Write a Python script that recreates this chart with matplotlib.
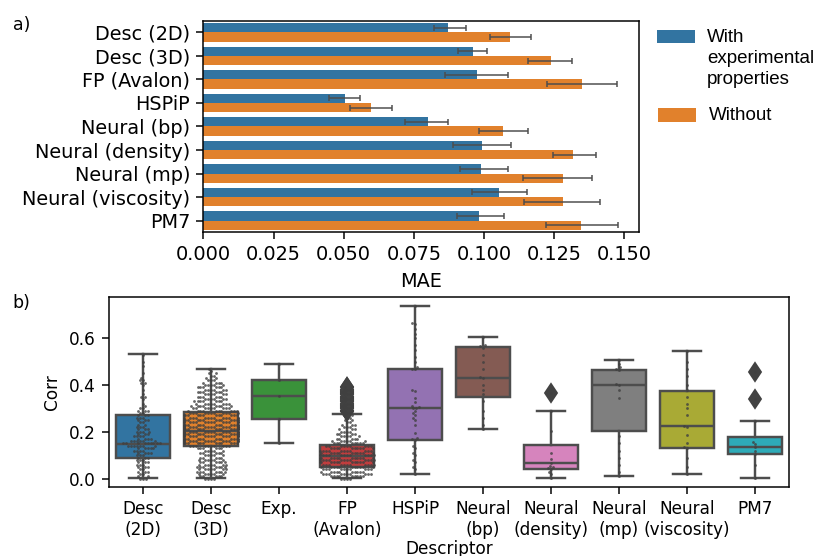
import numpy as np
import pandas as pd
import matplotlib
matplotlib.use('Agg')
import matplotlib.pyplot as plt
import seaborn as sns
from matplotlib.patches import Rectangle

plt.rcParams['font.size'] = 10.3

# ---- a) MAE bars ----
desc_labels = ['Desc (2D)', 'Desc (3D)', 'FP (Avalon)', 'HSPiP', 'Neural (bp)',
               'Neural (density)', 'Neural (mp)', 'Neural (viscosity)', 'PM7']
mae_with = [0.0873, 0.0961, 0.0974, 0.0505, 0.0800, 0.0992, 0.0990, 0.1055, 0.0983]
with_lo = [0.0822, 0.0906, 0.0862, 0.0449, 0.0720, 0.0890, 0.0916, 0.0956, 0.0902]
with_hi = [0.0935, 0.1012, 0.1087, 0.0559, 0.0871, 0.1096, 0.1085, 0.1154, 0.1071]
mae_without = [0.1093, 0.1238, 0.1349, 0.0596, 0.1068, 0.1316, 0.1280, 0.1283, 0.1346]
without_lo = [0.1021, 0.1157, 0.1226, 0.0523, 0.0982, 0.1246, 0.1138, 0.1143, 0.1222]
without_hi = [0.1166, 0.1315, 0.1474, 0.0671, 0.1158, 0.1398, 0.1386, 0.1413, 0.1478]

# ---- b) Corr box plots ----
box_names = ['Desc (2D)', 'Desc (3D)', 'Exp.', 'FP (Avalon)', 'HSPiP', 'Neural (bp)',
             'Neural (density)', 'Neural (mp)', 'Neural (viscosity)', 'PM7']
box_ticklabels = ['Desc\n(2D)', 'Desc\n(3D)', 'Exp.', 'FP\n(Avalon)', 'HSPiP', 'Neural\n(bp)',
                  'Neural\n(density)', 'Neural\n(mp)', 'Neural\n(viscosity)', 'PM7']
box_colors = ['#3274a1', '#e1812c', '#3a923a', '#c03d3e', '#9372b2',
              '#845b53', '#d684bd', '#7f7f7f', '#a9aa35', '#2eabb8']
whis_lo = [0.004, 0.003, 0.151, 0.004, 0.020, 0.213, 0.003, 0.010, 0.021, 0.003]
q1 = [0.087, 0.138, 0.253, 0.050, 0.163, 0.350, 0.043, 0.204, 0.131, 0.103]
med = [0.148, 0.203, 0.354, 0.097, 0.303, 0.431, 0.066, 0.401, 0.224, 0.134]
q3 = [0.271, 0.286, 0.423, 0.144, 0.467, 0.563, 0.144, 0.464, 0.374, 0.178]
whis_hi = [0.533, 0.469, 0.490, 0.278, 0.738, 0.607, 0.288, 0.507, 0.546, 0.244]

# dense groups: number of points per 0.01 step of Corr, starting at 0.00
desc2d_counts = [3, 2, 2, 3, 2, 3, 3, 3, 3, 3,
                 3, 4, 4, 5, 7, 9, 6, 4, 4, 3,
                 4, 3, 3, 2, 2, 3, 3, 3, 2, 3,
                 2, 1, 1, 0, 1, 2, 1, 0, 1, 0,
                 1, 2, 2, 1, 0, 1, 0, 0, 1, 0,
                 1, 0, 0, 1]
desc3d_counts = [4, 5, 6, 7, 7, 7, 7, 6, 6, 5,
                 5, 5, 5, 6, 10, 12, 14, 15, 16, 17,
                 18, 18, 17, 16, 15, 14, 13, 12, 11, 10,
                 9, 8, 8, 7, 6, 6, 6, 6, 6, 6,
                 5, 4, 3, 2, 2, 2, 1, 1]
fp_counts = [4, 9, 10, 10, 10, 11, 11, 12, 12, 12,
             12, 11, 11, 10, 9, 8, 6, 5, 5, 4,
             4, 3, 3, 3, 2, 2, 2, 2, 3, 3,
             3, 3, 3, 3, 3, 3, 3, 3, 3, 2]

exp_vals = [0.151, 0.253, 0.354, 0.423, 0.490]
hspip_vals = [0.738, 0.664, 0.66, 0.64, 0.62, 0.60, 0.57, 0.55, 0.52, 0.50, 0.475, 0.47,
              0.468, 0.378, 0.375, 0.344, 0.328, 0.31, 0.305, 0.303, 0.30, 0.29, 0.28,
              0.27, 0.26, 0.25, 0.23, 0.193, 0.172, 0.17, 0.165, 0.14, 0.13, 0.11, 0.10,
              0.08, 0.07, 0.05, 0.04, 0.02]
bp_vals = [0.607, 0.57, 0.565, 0.56, 0.53, 0.50, 0.47, 0.435, 0.43, 0.40, 0.38, 0.36,
           0.33, 0.29, 0.26, 0.23, 0.213]
density_vals = [0.364, 0.288, 0.203, 0.111, 0.083, 0.066, 0.055, 0.05, 0.045, 0.04,
                0.03, 0.02, 0.003]
mp_vals = [0.507, 0.49, 0.475, 0.47, 0.464, 0.405, 0.40, 0.378, 0.345, 0.18, 0.15,
           0.12, 0.09, 0.06, 0.03, 0.01]
visc_vals = [0.546, 0.50, 0.47, 0.44, 0.40, 0.378, 0.35, 0.32, 0.30, 0.27, 0.226, 0.22,
             0.186, 0.15, 0.133, 0.13, 0.086, 0.05, 0.021]
pm7_vals = [0.456, 0.339, 0.244, 0.157, 0.147, 0.134, 0.118, 0.103, 0.06, 0.003]


def from_counts(counts):
    levels = np.round(np.arange(len(counts)) * 0.01, 2)
    return list(np.repeat(levels, counts))


corr_data = {
    'Desc (2D)': from_counts(desc2d_counts),
    'Desc (3D)': from_counts(desc3d_counts),
    'Exp.': exp_vals,
    'FP (Avalon)': from_counts(fp_counts),
    'HSPiP': hspip_vals,
    'Neural (bp)': bp_vals,
    'Neural (density)': density_vals,
    'Neural (mp)': mp_vals,
    'Neural (viscosity)': visc_vals,
    'PM7': pm7_vals,
}

blue, orange = '#3274a1', '#e1812c'

fig = plt.figure(figsize=(814 / 135, 556 / 135), dpi=135)
ax1 = fig.add_axes([0.2498, 0.5822, 0.5352, 0.3806])
ax2 = fig.add_axes([0.1339, 0.1241, 0.8354, 0.3417])

# a) horizontal bars
pos = np.arange(len(desc_labels))
mw, mo = np.array(mae_with), np.array(mae_without)
ax1.barh(pos - 0.2, mw, height=0.4, color=blue)
ax1.barh(pos + 0.2, mo, height=0.4, color=orange)
ax1.errorbar(mw, pos - 0.2, xerr=[mw - np.array(with_lo), np.array(with_hi) - mw],
             fmt='none', ecolor='0.3', elinewidth=0.8, capsize=1.5, capthick=0.8)
ax1.errorbar(mo, pos + 0.2, xerr=[mo - np.array(without_lo), np.array(without_hi) - mo],
             fmt='none', ecolor='0.3', elinewidth=0.8, capsize=1.5, capthick=0.8)
ax1.set_yticks(pos)
ax1.set_yticklabels(desc_labels)
ax1.set_ylim(8.5, -0.5)
ax1.set_xlim(0, 0.1552)
ax1.set_xticks([0, 0.025, 0.05, 0.075, 0.1, 0.125, 0.15])
ax1.set_xticklabels(['0.000', '0.025', '0.050', '0.075', '0.100', '0.125', '0.150'])
ax1.set_xlabel('MAE')

# legend drawn beside panel a
fig.add_artist(Rectangle((0.8071, 0.9227), 0.0467, 0.0234, transform=fig.transFigure,
                         facecolor=blue, edgecolor='none'))
fig.add_artist(Rectangle((0.8084, 0.7806), 0.0467, 0.0252, transform=fig.transFigure,
                         facecolor=orange, edgecolor='none'))
fig.text(0.8686, 0.9487, 'With\nexperimental\nproperties', va='top', ha='left',
         fontsize=10, family='Liberation Sans', linespacing=1.32)
fig.text(0.8714, 0.7842, 'Without', va='baseline', ha='left',
         fontsize=10, family='Liberation Sans')

# b) box plots from the read statistics
stats = []
for i, name in enumerate(box_names):
    fl = [v for v in corr_data[name] if v > whis_hi[i] + 0.005]
    stats.append(dict(med=med[i], q1=q1[i], q3=q3[i], whislo=whis_lo[i],
                      whishi=whis_hi[i], fliers=fl, label=name))
bp = ax2.bxp(stats, positions=np.arange(len(box_names)), widths=0.8, patch_artist=True,
             manage_ticks=False,
             boxprops=dict(edgecolor='0.3', linewidth=1.3),
             medianprops=dict(color='0.3', linewidth=1.3),
             whiskerprops=dict(color='0.3', linewidth=1.3),
             capprops=dict(color='0.3', linewidth=1.3),
             flierprops=dict(marker='d', markerfacecolor='0.26', markeredgecolor='0.26',
                             markersize=7))
for patch, c in zip(bp['boxes'], box_colors):
    patch.set_facecolor(c)

df = pd.DataFrame([(k, v) for k in box_names for v in corr_data[k]],
                  columns=['Descriptor', 'Corr'])
sns.swarmplot(data=df, x='Descriptor', y='Corr', order=box_names, color='0.25',
              size=1.5, alpha=0.8, ax=ax2, zorder=3, warn_thresh=1)

ax2.set_xticks(np.arange(len(box_names)))
ax2.set_xticklabels(box_ticklabels, fontsize=9)
ax2.set_xlim(-0.5, 9.5)
ax2.set_ylim(-0.036, 0.776)
ax2.set_yticks([0.0, 0.2, 0.4, 0.6])
ax2.tick_params(axis='y', labelsize=9)
ax2.set_xlabel('Descriptor', fontsize=9, labelpad=0.5)
ax2.set_ylabel('Corr', fontsize=9)

fig.text(0.016, 0.955, 'a)', va='center', fontsize=9.2)
fig.text(0.015, 0.455, 'b)', va='center', fontsize=9.2)

fig.savefig('out.png', dpi=135)
